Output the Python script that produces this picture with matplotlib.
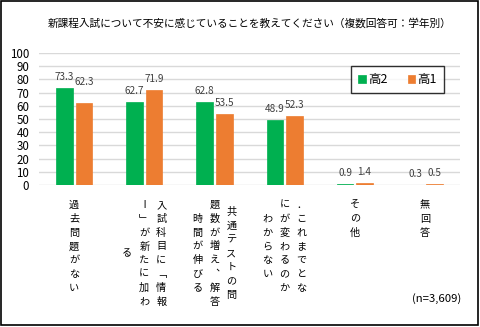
import matplotlib
matplotlib.use("Agg")
import matplotlib.pyplot as plt
import numpy as np
from matplotlib.patches import Rectangle
from matplotlib.transforms import blended_transform_factory

plt.rcParams["font.family"] = ["Noto Sans CJK JP", "DejaVu Sans"]

# categories written vertically; "\n" separates the columns (right to left)
categories = [
    "過去問題がない",
    "入試科目に﹁情報\nⅠ﹂が新たに加わ\nる",
    "共通テストの問\n題数が増え︑解答\n時間が伸びる",
    "．これまでとな\nにが変わるのか\nわからない",
    "その他",
    "無回答",
]
grade2 = [73.3, 62.7, 62.8, 48.9, 0.9, 0.3]
grade1 = [62.3, 71.9, 53.5, 52.3, 1.4, 0.5]
series_names = ["高2", "高1"]
yticks = list(range(0, 101, 10))
title = "新課程入試について不安に感じていることを教えてください（複数回答可：学年別）"
note = "(n=3,609)"

W, H = 480, 327
GREEN, ORANGE = "#00B050", "#ED7D31"

fig = plt.figure(figsize=(W / 100, H / 100), dpi=100)
ax = fig.add_axes([39 / W, 1 - 185 / H, 421 / W, 132 / H])

x = np.arange(len(categories))
bw = 0.236
# thin same-colour edge keeps the tiny bars visible
b2 = ax.bar(x - 0.138, grade2, bw, color=GREEN, edgecolor=GREEN, lw=0.5,
            label=series_names[0], zorder=2)
b1 = ax.bar(x + 0.140, grade1, bw, color=ORANGE, edgecolor=ORANGE, lw=0.5,
            label=series_names[1], zorder=2)

# value labels above the bars (one label sits a bit higher to clear its neighbour)
extra_lift = {(1, 0): 10}
for s, bars in enumerate([b2, b1]):
    for i, rect in enumerate(bars):
        lift = 11 + extra_lift.get((s, i), 0)
        ax.annotate(f"{rect.get_height():.1f}",
                    (rect.get_x() + rect.get_width() / 2, rect.get_height()),
                    xytext=(0, lift * 0.72), textcoords="offset points",
                    ha="center", va="center", fontsize=7.2, color="#404040")

ax.set_xlim(-0.5, len(categories) - 0.5)
ax.set_ylim(0, 100)
ax.set_yticks(yticks)
ax.set_yticklabels([str(v) for v in yticks], fontsize=8.3, color="#000000")
ax.set_xticks([])
ax.tick_params(axis="y", length=0, pad=7)
ax.yaxis.grid(True, color="#D9D9D9", lw=1.0, zorder=0)
for sp in ax.spines.values():
    sp.set_visible(False)

# vertical category labels, columns centred on each other
trans = blended_transform_factory(ax.transData, fig.transFigure)
unit_px = 421 / len(categories)
col_gap = 17
pitch = 13.8
top = 205
for i, cat in enumerate(categories):
    cols = cat.split("\n")
    n = len(cols)
    maxlen = max(len(c) for c in cols)
    for j, col in enumerate(cols):
        xc = i + ((n - 1) / 2 - j) * col_gap / unit_px
        for k, ch in enumerate(col):
            yc = top + ((maxlen - len(col)) / 2 + k) * pitch
            fig.text(xc, 1 - yc / H, ch, transform=trans, ha="center",
                     va="center", fontsize=7.3, color="#000000")

fig.text(250 / W, 1 - 23 / H, title, ha="center", va="center",
         fontsize=7.7, color="#000000")
fig.text(461 / W, 1 - 299 / H, note, ha="right", va="center",
         fontsize=8.2, color="#000000")

leg = ax.legend(handles=[b2, b1], ncol=2, loc="center",
                bbox_to_anchor=(397.5 / W, 1 - 79.5 / H),
                bbox_transform=fig.transFigure, frameon=True, fancybox=False,
                edgecolor="black", handlelength=0.6, handleheight=0.6,
                handletextpad=0.2, columnspacing=1.6, borderpad=0.55,
                borderaxespad=0, fontsize=9)
leg.get_frame().set_linewidth(1.0)

fig.patches.append(Rectangle((1 / W, 2 / H), 477 / W, 324 / H,
                             transform=fig.transFigure, fill=False,
                             edgecolor="black", lw=1.2))

fig.savefig("out.png", dpi=100)
